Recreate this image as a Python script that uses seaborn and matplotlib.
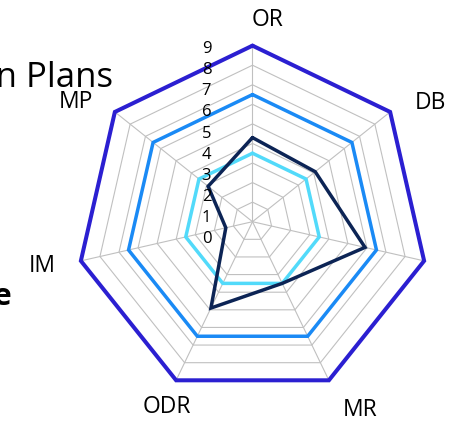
import matplotlib
matplotlib.use('Agg')

import numpy as np
import pandas as pd
import matplotlib.pyplot as plt
import seaborn as sns

sns.set_theme(style='white')
plt.rcParams['font.family'] = ['Open Sans', 'DejaVu Sans']

# data
categories = ['OR', 'DB', 'SR', 'MR', 'ODR', 'IM', 'MP']
series_names = ['Maximum', 'Target', 'Baseline', 'Current']
max_vals = [9, 9, 9, 9, 9, 9, 9]
target_vals = [6.5, 6.5, 6.5, 6.5, 6.5, 6.5, 6.5]
baseline_vals = [3.5, 3.5, 3.5, 3.5, 3.5, 3.5, 3.5]
current_vals = [4.3, 4.1, 5.9, 3.5, 4.9, 1.4, 2.9]
radial_ticks = [0, 1, 2, 3, 4, 5, 6, 7, 8, 9]

colors = {'Maximum': '#2b1fd1', 'Target': '#1a8af5',
          'Baseline': '#52dafa', 'Current': '#0c2455'}
widths = {'Maximum': 2.9, 'Target': 2.5, 'Baseline': 2.5, 'Current': 2.5}

n = len(categories)
theta = np.linspace(0, 2 * np.pi, n, endpoint=False)
theta_closed = np.append(theta, 2 * np.pi)

rows = []
for name, vals in zip(series_names, [max_vals, target_vals, baseline_vals, current_vals]):
    closed = list(vals) + [vals[0]]
    for t, v in zip(theta_closed, closed):
        rows.append({'series': name, 'theta': t, 'value': v})
df = pd.DataFrame(rows)

W, H = 454, 421
fig = plt.figure(figsize=(W / 100, H / 100), dpi=100)
cx, cy, R10 = 252.5, 221.7, 195.6
ax = fig.add_axes([(cx - R10) / W, (H - cy - R10) / H, 2 * R10 / W, 2 * R10 / H],
                  projection='polar')
ax.set_theta_zero_location('N')
ax.set_theta_direction(-1)

# heptagon grid
for r in range(1, 10):
    ax.plot(theta_closed, [r] * (n + 1), color='#c0c0c0', lw=0.8, zorder=1)
for t in theta:
    ax.plot([t, t], [0, 9], color='#c0c0c0', lw=0.8, zorder=1)

for name in series_names:
    sub = df[df['series'] == name]
    sns.lineplot(data=sub, x='theta', y='value', sort=False, estimator=None,
                 color=colors[name], lw=widths[name], ax=ax, legend=False,
                 solid_joinstyle='miter', zorder=3)

ax.set_ylim(0, 10)
ax.set_xticks([])
ax.set_yticks([])
ax.set_xlabel('')
ax.set_ylabel('')
ax.grid(False)
ax.spines['polar'].set_visible(False)
ax.patch.set_alpha(0)

# category labels (the one on the right falls outside the crop)
label_offsets = [(15.5, 25.7), (39.9, 9), (75, 4), (31.1, -29.7),
                 (-9.1, -26.7), (-38.9, -5.1), (-38.9, 10)]
for t, lab, off in zip(theta, categories, label_offsets):
    ax.annotate(lab, xy=(t, 9), xytext=off, textcoords='offset pixels',
                ha='center', va='center', fontsize=16.5, color='black',
                annotation_clip=False)

# radial tick labels
for v in radial_ticks:
    ax.annotate(str(v), xy=(0, 0), xytext=(-46, -17.6 + 21.15 * v),
                textcoords='offset pixels', ha='center', va='center',
                fontsize=12, color='black', annotation_clip=False)

fig.text(113 / W, 1 - 86.7 / H, 'Action Plans', ha='right', va='baseline',
         fontsize=25, color='black')
fig.text(12 / W, 1 - 305 / H, 'Profile', ha='right', va='baseline',
         fontsize=22, fontweight='bold', color='black')

fig.savefig('out.png', dpi=100)
